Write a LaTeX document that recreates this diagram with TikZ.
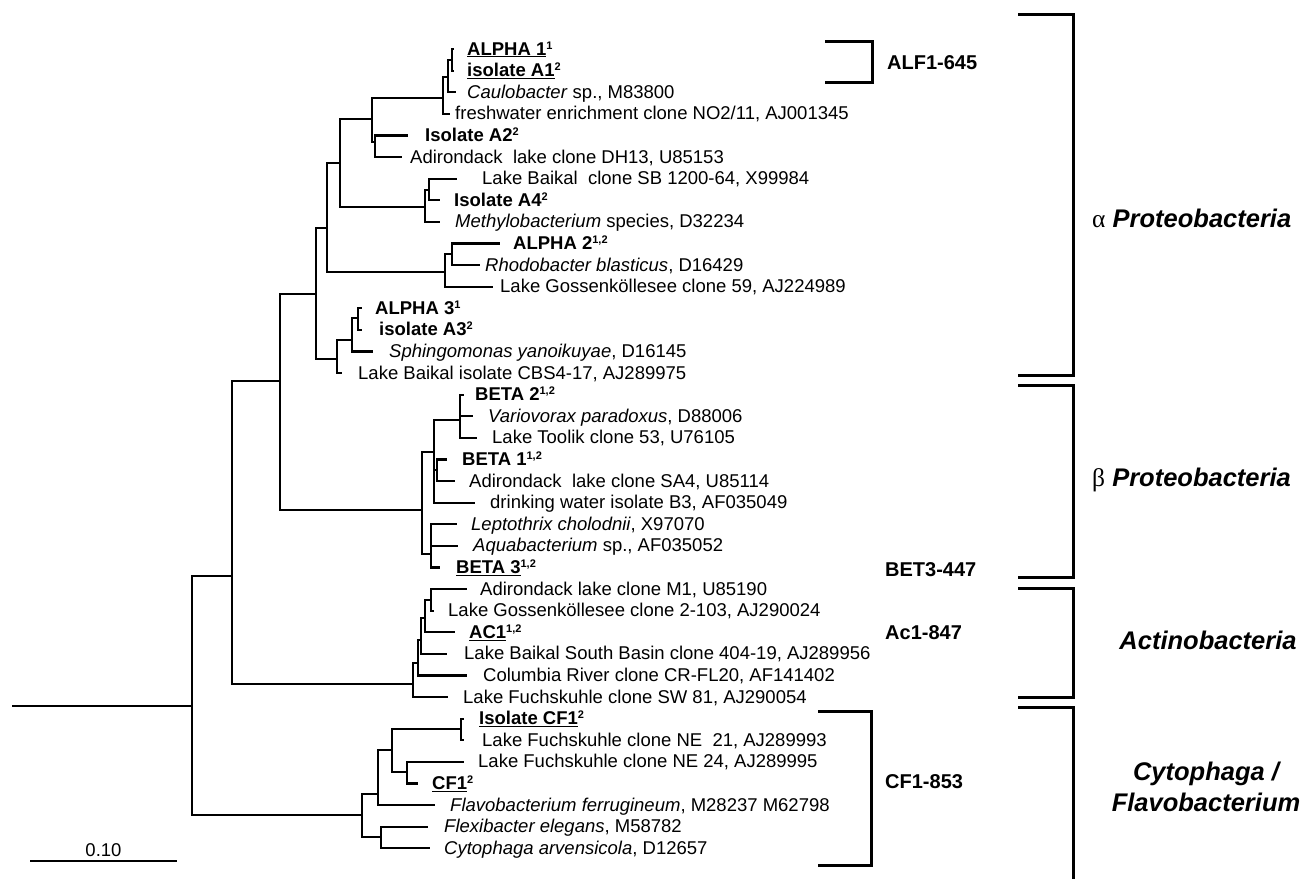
\documentclass[tikz,border=0pt]{standalone}
\usepackage{fontspec}
\setmainfont{Liberation Sans}
\newfontfamily\greekfont{Liberation Serif}
\usetikzlibrary{positioning}

\newcommand{\leaffont}{\fontsize{18.5}{22}\selectfont}
\newcommand{\probefont}{\fontsize{20}{24}\selectfont}
\newcommand{\groupfont}{\fontsize{25.5}{31}\selectfont}
\newcommand{\sups}[1]{\raisebox{6pt}{\fontsize{11}{11}\selectfont #1}}

\begin{document}
\begin{tikzpicture}[
    x=1pt, y=-1pt,
    branch/.style={line width=2.2pt},
    bracket/.style={line width=3pt},
    leaf/.style={anchor=west, inner sep=0pt, font=\leaffont, text height=12pt, text depth=0pt},
    strain/.style={leaf, font=\leaffont\bfseries},
    probe/.style={anchor=west, inner sep=0pt, font=\probefont\bfseries},
    group/.style={inner sep=0pt, font=\groupfont\bfseries\itshape, align=center},
]
\useasboundingbox (0,0) rectangle (1316,879);

% === LEAVES: ALPHA PROTEOBACTERIA ===
\coordinate (t0) at (454,49);    \node[strain] (l0) at (467,49) {\underline{ALPHA 1}\sups{1}};
\coordinate (t1) at (454,70.6);  \node[strain] (l1) at (467,70.6) {\underline{isolate A1}\sups{2}};
\coordinate (t2) at (456,92.2);  \node[leaf] (l2) at (467,92.2) {\textit{Caulobacter} sp., M83800};
\coordinate (t3) at (450,113.8); \node[leaf] (l3) at (455,113.8) {freshwater enrichment clone NO2/11, AJ001345};
\coordinate (t4) at (408,135.4); \node[strain] (l4) at (425,135.4) {Isolate A2\sups{2}};
\coordinate (t5) at (402,157);   \node[leaf] (l5) at (410,157) {Adirondack\ \ lake clone DH13, U85153};
\coordinate (t6) at (457,178.6); \node[leaf] (l6) at (482,178.6) {Lake Baikal\ \ clone SB 1200-64, X99984};
\coordinate (t7) at (440,200.2); \node[strain] (l7) at (454,200.2) {Isolate A4\sups{2}};
\coordinate (t8) at (440,221.8); \node[leaf] (l8) at (455,221.8) {\textit{Methylobacterium} species, D32234};
\coordinate (t9) at (500,243.4); \node[strain] (l9) at (513,243.4) {ALPHA 2\sups{1,2}};
\coordinate (t10) at (480,265);  \node[leaf] (l10) at (485,265) {\textit{Rhodobacter blasticus}, D16429};
\coordinate (t11) at (493,286.6); \node[leaf] (l11) at (500,286.6) {Lake Gossenköllesee clone 59, AJ224989};
\coordinate (t12) at (362,308.2); \node[strain] (l12) at (375,308.2) {ALPHA 3\sups{1}};
\coordinate (t13) at (362,329.8); \node[strain] (l13) at (379,329.8) {isolate A3\sups{2}};
\coordinate (t14) at (373,351.4); \node[leaf] (l14) at (389,351.4) {\textit{Sphingomonas yanoikuyae}, D16145};
\coordinate (t15) at (342,373);   \node[leaf] (l15) at (358,373) {Lake Baikal isolate CBS4-17, AJ289975};

% === LEAVES: BETA PROTEOBACTERIA ===
\coordinate (t16) at (464,394.6); \node[strain] (l16) at (475,394.6) {BETA 2\sups{1,2}};
\coordinate (t17) at (473,416.2); \node[leaf] (l17) at (488,416.2) {\textit{Variovorax paradoxus}, D88006};
\coordinate (t18) at (477,437.8); \node[leaf] (l18) at (492,437.8) {Lake Toolik clone 53, U76105};
\coordinate (t19) at (447,459.4); \node[strain] (l19) at (462,459.4) {BETA 1\sups{1,2}};
\coordinate (t20) at (455,481);   \node[leaf] (l20) at (469,481) {Adirondack\ \ lake clone SA4, U85114};
\coordinate (t21) at (475,502.6); \node[leaf] (l21) at (490,502.6) {drinking water isolate B3, AF035049};
\coordinate (t22) at (457,524.2); \node[leaf] (l22) at (471,524.2) {\textit{Leptothrix cholodnii}, X97070};
\coordinate (t23) at (458,545.8); \node[leaf] (l23) at (473,545.8) {\textit{Aquabacterium} sp., AF035052};
\coordinate (t24) at (440,567.4); \node[strain] (l24) at (456,567.4) {\underline{BETA 3}\sups{1,2}};

% === LEAVES: ACTINOBACTERIA ===
\coordinate (t25) at (467,589);   \node[leaf] (l25) at (480,589) {Adirondack lake clone M1, U85190};
\coordinate (t26) at (434,610.6); \node[leaf] (l26) at (448,610.6) {Lake Gossenköllesee clone 2-103, AJ290024};
\coordinate (t27) at (455,632.2); \node[strain] (l27) at (469,632.2) {\underline{AC1}\sups{1,2}};
\coordinate (t28) at (447,653.8); \node[leaf] (l28) at (464,653.8) {Lake Baikal South Basin clone 404-19, AJ289956};
\coordinate (t29) at (467,675.4); \node[leaf] (l29) at (483,675.4) {Columbia River clone CR-FL20, AF141402};
\coordinate (t30) at (448,697);   \node[leaf] (l30) at (463,697) {Lake Fuchskuhle clone SW 81, AJ290054};

% === LEAVES: CYTOPHAGA / FLAVOBACTERIUM ===
\coordinate (t31) at (464,718.6); \node[strain] (l31) at (479,718.6) {\underline{Isolate CF1}\sups{2}};
\coordinate (t32) at (464,740.2); \node[leaf] (l32) at (482,740.2) {Lake Fuchskuhle clone NE\ \ 21, AJ289993};
\coordinate (t33) at (464,761.8); \node[leaf] (l33) at (478,761.8) {Lake Fuchskuhle clone NE 24, AJ289995};
\coordinate (t34) at (418,783.4); \node[strain] (l34) at (432,783.4) {\underline{CF1}\sups{2}};
\coordinate (t35) at (435,805);   \node[leaf] (l35) at (450,805) {\textit{Flavobacterium ferrugineum}, M28237 M62798};
\coordinate (t36) at (428,826.6); \node[leaf] (l36) at (444,826.6) {\textit{Flexibacter elegans}, M58782};
\coordinate (t37) at (430,848.2); \node[leaf] (l37) at (444,848.2) {\textit{Cytophaga arvensicola}, D12657};

% === INNER NODES ===
\coordinate (origin) at (12,706);
\coordinate (root) at (192,706);
\coordinate (nd-pa) at (232,576);
\coordinate (nd-proteo) at (280,381);
\coordinate (nd-alpha) at (316,294);
\coordinate (nd-al1) at (327,228);
\coordinate (nd-al2) at (340,163);
\coordinate (nd-al3) at (372,119);
\coordinate (nd-caulo) at (443,98);
\coordinate (nd-caulo1) at (448,77);
\coordinate (nd-caulo2) at (452,60);
\coordinate (nd-a2) at (375,142);
\coordinate (nd-a4) at (425,207);
\coordinate (nd-a4b) at (429,190);
\coordinate (nd-rhodo) at (445,272);
\coordinate (nd-rhodo1) at (452,254);
\coordinate (nd-sphingo) at (337,359);
\coordinate (nd-sphingo1) at (352,340);
\coordinate (nd-sphingo2) at (358,318);
\coordinate (nd-beta) at (422,510);
\coordinate (nd-be1) at (434,452);
\coordinate (nd-be2) at (460,420);
\coordinate (nd-be3) at (437,470);
\coordinate (nd-lepto) at (431,554);
\coordinate (nd-actino) at (413,684);
\coordinate (nd-ac1) at (418,663);
\coordinate (nd-ac2) at (421,640);
\coordinate (nd-ac3) at (425,618);
\coordinate (nd-ac4) at (431,600);
\coordinate (nd-cf) at (362,815);
\coordinate (nd-cf1) at (378,794);
\coordinate (nd-flexi) at (381,837);
\coordinate (nd-cf2) at (392,750);
\coordinate (nd-cf3) at (461,729);
\coordinate (nd-cf4) at (407,772);

% === BRANCHES ===
\draw[branch] (origin) -- (root);
\draw[branch] (root) |- (nd-pa) (root) |- (nd-cf);
\draw[branch] (nd-pa) |- (nd-proteo) (nd-pa) |- (nd-actino);
\draw[branch] (nd-proteo) |- (nd-alpha) (nd-proteo) |- (nd-beta);

% alpha
\draw[branch] (nd-alpha) |- (nd-al1) (nd-alpha) |- (nd-sphingo);
\draw[branch] (nd-al1) |- (nd-al2) (nd-al1) |- (nd-rhodo);
\draw[branch] (nd-al2) |- (nd-al3) (nd-al2) |- (nd-a4);
\draw[branch] (nd-al3) |- (nd-caulo) (nd-al3) |- (nd-a2);
\draw[branch] (nd-caulo) |- (nd-caulo1) (nd-caulo) |- (t3);
\draw[branch] (nd-caulo1) |- (nd-caulo2) (nd-caulo1) |- (t2);
\draw[branch] (nd-caulo2) |- (t0) (nd-caulo2) |- (t1);
\draw[branch] (nd-a2) |- (t4) (nd-a2) |- (t5);
\draw[branch] (nd-a4) |- (nd-a4b) (nd-a4) |- (t8);
\draw[branch] (nd-a4b) |- (t6) (nd-a4b) |- (t7);
\draw[branch] (nd-rhodo) |- (nd-rhodo1) (nd-rhodo) |- (t11);
\draw[branch] (nd-rhodo1) |- (t9) (nd-rhodo1) |- (t10);
\draw[branch] (nd-sphingo) |- (nd-sphingo1) (nd-sphingo) |- (t15);
\draw[branch] (nd-sphingo1) |- (nd-sphingo2) (nd-sphingo1) |- (t14);
\draw[branch] (nd-sphingo2) |- (t12) (nd-sphingo2) |- (t13);

% beta
\draw[branch] (nd-beta) |- (nd-be1) (nd-beta) |- (nd-lepto);
\draw[branch] (nd-be1) |- (nd-be2) (nd-be1) |- (nd-be3) (nd-be1) |- (t21);
\draw[branch] (nd-be2) |- (t16) (nd-be2) |- (t17) (nd-be2) |- (t18);
\draw[branch] (nd-be3) |- (t19) (nd-be3) |- (t20);
\draw[branch] (nd-lepto) |- (t22) (nd-lepto) |- (t23) (nd-lepto) |- (t24);

% actinobacteria
\draw[branch] (nd-actino) |- (nd-ac1) (nd-actino) |- (t30);
\draw[branch] (nd-ac1) |- (nd-ac2) (nd-ac1) |- (t29);
\draw[branch] (nd-ac2) |- (nd-ac3) (nd-ac2) |- (t28);
\draw[branch] (nd-ac3) |- (nd-ac4) (nd-ac3) |- (t27);
\draw[branch] (nd-ac4) |- (t25) (nd-ac4) |- (t26);

% cytophaga / flavobacterium
\draw[branch] (nd-cf) |- (nd-cf1) (nd-cf) |- (nd-flexi);
\draw[branch] (nd-cf1) |- (nd-cf2) (nd-cf1) |- (t35);
\draw[branch] (nd-cf2) |- (nd-cf3) (nd-cf2) |- (nd-cf4);
\draw[branch] (nd-cf3) |- (t31) (nd-cf3) |- (t32);
\draw[branch] (nd-cf4) |- (t33) (nd-cf4) |- (t34);
\draw[branch] (nd-flexi) |- (t36) (nd-flexi) |- (t37);

% === SCALE BAR ===
\coordinate (sb-left) at (30,861);
\coordinate (sb-right) at (177,861);
\coordinate (sb-mid) at (103.5,861);
\draw[branch] (sb-left) -- (sb-right);
\node[leaf, anchor=south, above=4.5pt of sb-mid] (scale) {0.10};

% === PROBES ===
\draw[bracket] (825,41) -- (872,41) -- (872,82) -- (825,82);
\node[probe] (alf1) at (887,63) {ALF1-645};
\node[probe] (bet3) at (885,570) {BET3-447};
\node[probe] (ac1) at (885,633) {Ac1-847};
\draw[bracket] (818,711) -- (871,711) -- (871,865) -- (818,865);
\node[probe] (cf1) at (885,782) {CF1-853};

% === GROUPS ===
\draw[bracket] (1018,14) -- (1073,14) -- (1073,375) -- (1018,375);
\node[group, anchor=west] (alpha) at (1092,218) {{\greekfont\mdseries\upshape α} Proteobacteria};
\draw[bracket] (1018,385) -- (1073,385) -- (1073,577) -- (1018,577);
\node[group, anchor=west] (beta) at (1092,480) {{\greekfont\mdseries\upshape β} Proteobacteria};
\draw[bracket] (1018,588) -- (1073,588) -- (1073,697) -- (1018,697);
\node[group] (actino) at (1208,640) {Actinobacteria};
\draw[bracket] (1018,707) -- (1073,707) -- (1073,879);
\node[group] (cyto) at (1206,787) {Cytophaga /\\Flavobacterium};

\end{tikzpicture}
\end{document}
